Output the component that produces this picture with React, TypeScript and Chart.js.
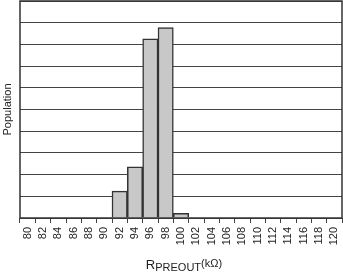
import React, { useEffect, useRef } from "react";
import { Chart, registerables } from "chart.js";

Chart.register(...registerables);

const binLabels = ["80","82","84","86","88","90","92","94","96","98","100","102","104","106","108","110","112","114","116","118","120"];
const populationValues: (number | null)[] = [null,null,null,null,null,null,1.24,2.36,8.26,8.77,0.22,null,null,null,null,null,null,null,null,null,null];
const yTitle = "Population";
const xTitleMain = "R";
const xTitleSub = "PREOUT";
const xTitleUnit = "(kΩ)";

const FONT = "'Liberation Sans', Arial, sans-serif";

const decorPlugin = {
  id: "decor",
  afterDatasetsDraw(chart: any) {
    const { ctx, chartArea } = chart;
    const { left, right, top, bottom } = chartArea;
    ctx.save();
    ctx.strokeStyle = "#333";
    ctx.lineWidth = 1.5;
    ctx.strokeRect(left, top, right - left, bottom - top);
    ctx.restore();
  },
  afterDraw(chart: any) {
    const { ctx, chartArea } = chart;
    const { left, right, top, bottom } = chartArea;
    ctx.save();
    ctx.fillStyle = "#222";
    ctx.font = `11px ${FONT}`;
    ctx.translate(8, (top + bottom) / 2);
    ctx.rotate(-Math.PI / 2);
    ctx.textAlign = "center";
    ctx.textBaseline = "middle";
    ctx.fillText(yTitle, 0, 0);
    ctx.restore();

    ctx.save();
    ctx.fillStyle = "#222";
    ctx.textBaseline = "alphabetic";
    ctx.textAlign = "left";
    const fMain = `13px ${FONT}`;
    const fSub = `11px ${FONT}`;
    ctx.font = fMain;
    const wMain = ctx.measureText(xTitleMain).width;
    ctx.font = fSub;
    const wSub = ctx.measureText(xTitleSub).width;
    const wUnit = ctx.measureText(xTitleUnit).width;
    const total = wMain + wSub + wUnit;
    let x = (left + right) / 2 - total / 2 + 3;
    const base = 269;
    ctx.font = fMain;
    ctx.fillText(xTitleMain, x, base);
    x += wMain;
    ctx.font = fSub;
    ctx.fillText(xTitleSub, x, base + 2);
    x += wSub;
    ctx.fillText(xTitleUnit, x, base - 2);
    ctx.restore();
  },
};

export default function App() {
  const ref = useRef<HTMLCanvasElement | null>(null);
  useEffect(() => {
    if (!ref.current) return;
    const chart = new Chart(ref.current, {
      type: "bar",
      data: {
        labels: binLabels,
        datasets: [
          {
            data: populationValues,
            backgroundColor: "#c8c8c8",
            borderColor: "#333",
            borderWidth: 1.5,
            borderSkipped: "bottom",
            barPercentage: 1,
            categoryPercentage: 1,
          },
        ],
      },
      options: {
        animation: false,
        responsive: false,
        maintainAspectRatio: false,
        layout: { padding: { top: 1, right: 1, left: 0, bottom: 0 } },
        plugins: { legend: { display: false }, tooltip: { enabled: false } },
        scales: {
          x: {
            type: "category",
            offset: true,
            grid: {
              offset: true,
              drawOnChartArea: false,
              drawTicks: true,
              tickLength: 5,
              color: "#444",
              lineWidth: 1,
            },
            border: { display: false },
            ticks: {
              minRotation: 90,
              maxRotation: 90,
              padding: 4,
              autoSkip: false,
              color: "#222",
              font: { family: FONT, size: 11 },
            },
            afterFit(scale: any) {
              scale.height = 55;
              scale.paddingLeft = 0;
              scale.paddingRight = 0;
            },
          },
          y: {
            min: 0,
            max: 10,
            ticks: { display: false, stepSize: 1 },
            grid: { drawTicks: false, color: "#444", lineWidth: 1 },
            border: { display: false },
            afterFit(scale: any) {
              scale.width = 20;
              scale.paddingTop = 0;
              scale.paddingBottom = 0;
            },
          },
        },
      },
      plugins: [decorPlugin],
    });
    return () => chart.destroy();
  }, []);
  return (
    <div style={{ position: "fixed", left: 0, top: 0, width: 343, height: 273, background: "#fff" }}>
      <canvas ref={ref} width={343} height={273} style={{ display: "block", width: 343, height: 273 }} />
    </div>
  );
}
